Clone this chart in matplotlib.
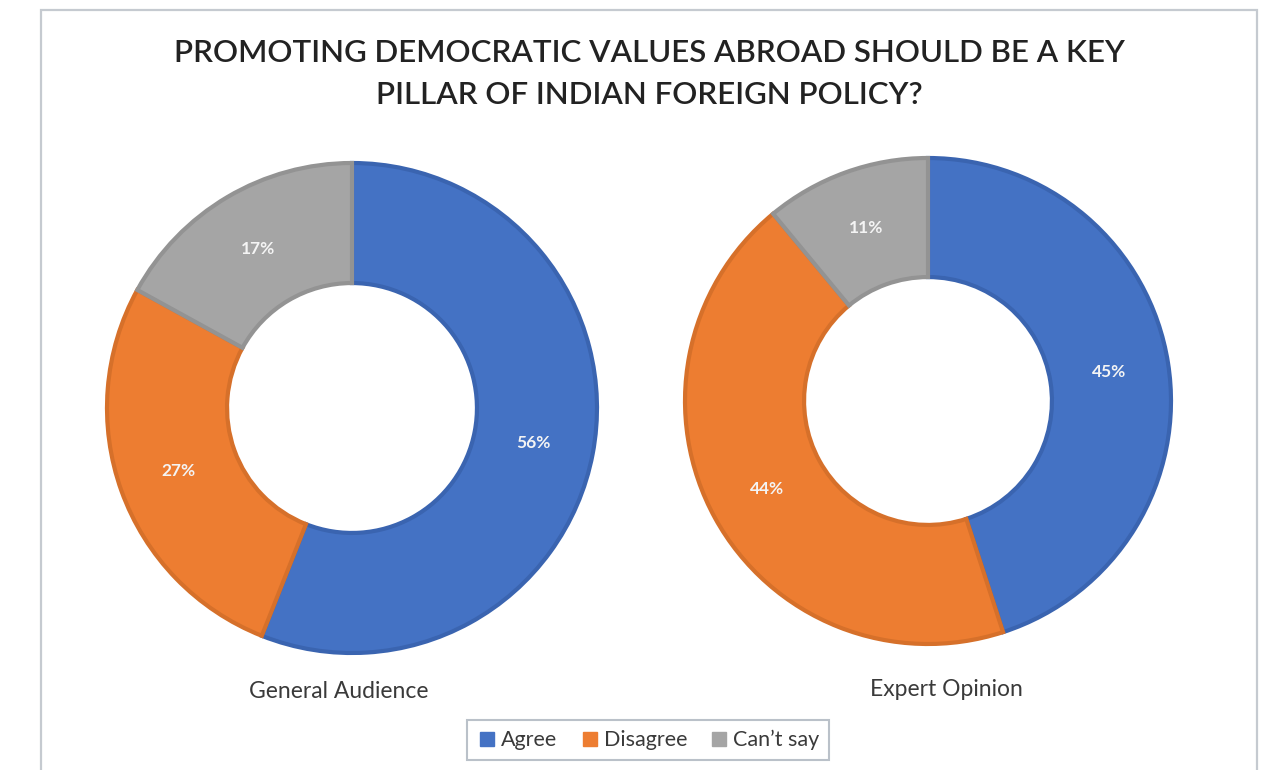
import matplotlib.pyplot as plt
from matplotlib.patches import Rectangle
from matplotlib.lines import Line2D

plt.rcParams['font.family'] = ['Lato', 'DejaVu Sans']

title = 'PROMOTING DEMOCRATIC VALUES ABROAD SHOULD BE A KEY\nPILLAR OF INDIAN FOREIGN POLICY?'
categories = ['Agree', 'Disagree', 'Can\u2019t say']
general = [56, 27, 17]
expert = [45, 44, 11]
colors = ['#4472C4', '#ED7D31', '#A5A5A5']
edges = ['#3A64B0', '#D6702A', '#939393']

W, H = 1261, 770
fig = plt.figure(figsize=(W / 100, H / 100), dpi=100)
fig.patch.set_facecolor('white')

# outer chart frame
fig.patches.append(Rectangle((41 / W, -0.05), (1257 - 41) / W, 1.05 - 10 / H,
                             transform=fig.transFigure, fill=False,
                             edgecolor='#C5CAD0', linewidth=1.6))

fig.text(649 / W, 1 - 74 / H, title, ha='center', va='center',
         fontsize=22.5, color='#222222', linespacing=1.6, fontweight='semibold')


def donut(cx, cy, r, values, label, lx, ly):
    pad = 1.05
    ax = fig.add_axes([(cx - r * pad) / W, 1 - (cy + r * pad) / H,
                       2 * r * pad / W, 2 * r * pad / H])
    wedges, _, autotexts = ax.pie(values, colors=colors, startangle=90,
                                  counterclock=False, radius=1,
                                  autopct=lambda p: f'{p:.0f}%', pctdistance=0.755,
                                  wedgeprops=dict(width=0.49, linewidth=3))
    for w, ec in zip(wedges, edges):
        w.set_edgecolor(ec)
    for t in autotexts:
        t.set_color('#F4F4F4')
        t.set_fontsize(12.5)
        t.set_fontweight('bold')
    ax.set_xlim(-pad, pad)
    ax.set_ylim(-pad, pad)
    ax.set_aspect('equal')
    fig.text(lx / W, 1 - ly / H, label, ha='center', va='center',
             fontsize=16.5, color='#3A3A3A')


donut(352, 408, 245, general, 'General Audience', 339, 692)
donut(928, 401, 243, expert, 'Expert Opinion', 946, 690)

handles = [Line2D([], [], marker='s', linestyle='none', markersize=10,
                  markerfacecolor=c, markeredgecolor=c) for c in colors]
leg = fig.legend(handles, categories, loc='center', ncol=3,
                 bbox_to_anchor=(648 / W, 1 - 740 / H), fontsize=15.5,
                 frameon=True, fancybox=False, handletextpad=0.15,
                 columnspacing=1.0, handlelength=1.0, borderpad=0.45)
leg.get_frame().set_edgecolor('#A9B2BC')
leg.get_frame().set_linewidth(1.5)
for t in leg.get_texts():
    t.set_color('#3A3A3A')

fig.savefig('out.png', dpi=100)
